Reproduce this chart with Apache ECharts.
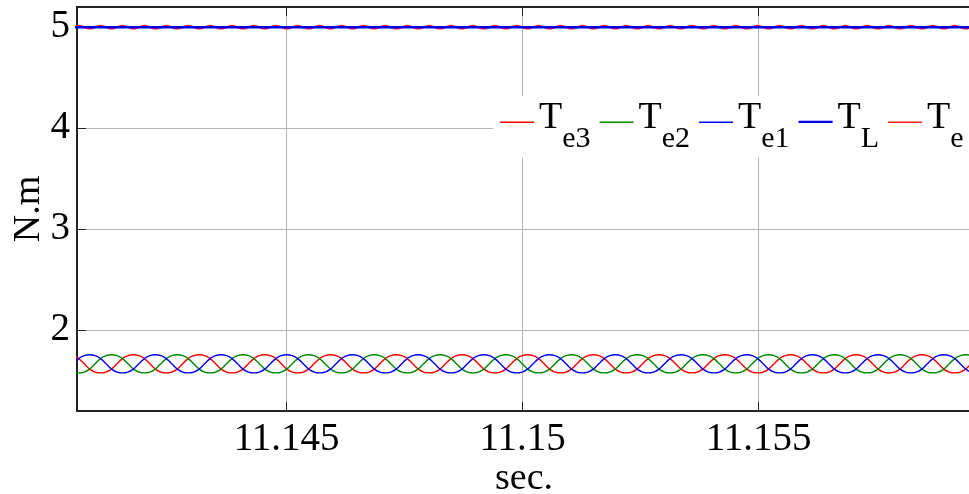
<!DOCTYPE html>
<html>
<head>
<meta charset="utf-8">
<script src="https://cdn.jsdelivr.net/npm/echarts@6/dist/echarts.min.js"></script>
<style>
html,body{margin:0;padding:0;background:#fff;}
#chart{width:969px;height:494px;}
</style>
</head>
<body>
<div id="chart"></div>
<script>
// time samples (s)
const time = [
11.14048,11.140596,11.140712,11.140828,11.140944,11.14106,11.141176,11.141292,11.141408,11.141524,11.14164,11.141756,
11.141872,11.141988,11.142104,11.14222,11.142336,11.142452,11.142568,11.142684,11.1428,11.142916,11.143032,11.143148,
11.143264,11.14338,11.143496,11.143612,11.143728,11.143844,11.14396,11.144076,11.144192,11.144308,11.144424,11.14454,
11.144656,11.144772,11.144888,11.145004,11.14512,11.145236,11.145352,11.145468,11.145584,11.1457,11.145816,11.145932,
11.146048,11.146164,11.14628,11.146396,11.146512,11.146628,11.146744,11.14686,11.146976,11.147092,11.147208,11.147324,
11.14744,11.147556,11.147672,11.147788,11.147904,11.14802,11.148136,11.148252,11.148368,11.148484,11.1486,11.148716,
11.148832,11.148948,11.149064,11.14918,11.149296,11.149412,11.149528,11.149644,11.14976,11.149876,11.149992,11.150108,
11.150224,11.15034,11.150456,11.150572,11.150688,11.150804,11.15092,11.151036,11.151152,11.151268,11.151384,11.1515,
11.151616,11.151732,11.151848,11.151964,11.15208,11.152196,11.152312,11.152428,11.152544,11.15266,11.152776,11.152892,
11.153008,11.153124,11.15324,11.153356,11.153472,11.153588,11.153704,11.15382,11.153936,11.154052,11.154168,11.154284,
11.1544,11.154516,11.154632,11.154748,11.154864,11.15498,11.155096,11.155212,11.155328,11.155444,11.15556,11.155676,
11.155792,11.155908,11.156024,11.15614,11.156256,11.156372,11.156488,11.156604,11.15672,11.156836,11.156952,11.157068,
11.157184,11.1573,11.157416,11.157532,11.157648,11.157764,11.15788,11.157996,11.158112,11.158228,11.158344,11.15846,
11.158576,11.158692,11.158808,11.158924,11.15904,11.159156,11.159272,11.159388,11.159504,11.15962,11.159736,11.159852
];

// phase torques (N.m)
const te1 = [
1.667,1.719,1.749,1.757,1.749,1.719,1.667,1.615,1.585,1.577,1.585,1.615,
1.667,1.719,1.749,1.757,1.749,1.719,1.667,1.615,1.585,1.577,1.585,1.615,
1.667,1.719,1.749,1.757,1.749,1.719,1.667,1.615,1.585,1.577,1.585,1.615,
1.667,1.719,1.749,1.757,1.749,1.719,1.667,1.615,1.585,1.577,1.585,1.615,
1.667,1.719,1.749,1.757,1.749,1.719,1.667,1.615,1.585,1.577,1.585,1.615,
1.667,1.719,1.749,1.757,1.749,1.719,1.667,1.615,1.585,1.577,1.585,1.615,
1.667,1.719,1.749,1.757,1.749,1.719,1.667,1.615,1.585,1.577,1.585,1.615,
1.667,1.719,1.749,1.757,1.749,1.719,1.667,1.615,1.585,1.577,1.585,1.615,
1.667,1.719,1.749,1.757,1.749,1.719,1.667,1.615,1.585,1.577,1.585,1.615,
1.667,1.719,1.749,1.757,1.749,1.719,1.667,1.615,1.585,1.577,1.585,1.615,
1.667,1.719,1.749,1.757,1.749,1.719,1.667,1.615,1.585,1.577,1.585,1.615,
1.667,1.719,1.749,1.757,1.749,1.719,1.667,1.615,1.585,1.577,1.585,1.615,
1.667,1.719,1.749,1.757,1.749,1.719,1.667,1.615,1.585,1.577,1.585,1.615,
1.667,1.719,1.749,1.757,1.749,1.719,1.667,1.615,1.585,1.577,1.585,1.615
];
const te2 = [
1.585,1.577,1.585,1.615,1.667,1.719,1.749,1.757,1.749,1.719,1.667,1.615,
1.585,1.577,1.585,1.615,1.667,1.719,1.749,1.757,1.749,1.719,1.667,1.615,
1.585,1.577,1.585,1.615,1.667,1.719,1.749,1.757,1.749,1.719,1.667,1.615,
1.585,1.577,1.585,1.615,1.667,1.719,1.749,1.757,1.749,1.719,1.667,1.615,
1.585,1.577,1.585,1.615,1.667,1.719,1.749,1.757,1.749,1.719,1.667,1.615,
1.585,1.577,1.585,1.615,1.667,1.719,1.749,1.757,1.749,1.719,1.667,1.615,
1.585,1.577,1.585,1.615,1.667,1.719,1.749,1.757,1.749,1.719,1.667,1.615,
1.585,1.577,1.585,1.615,1.667,1.719,1.749,1.757,1.749,1.719,1.667,1.615,
1.585,1.577,1.585,1.615,1.667,1.719,1.749,1.757,1.749,1.719,1.667,1.615,
1.585,1.577,1.585,1.615,1.667,1.719,1.749,1.757,1.749,1.719,1.667,1.615,
1.585,1.577,1.585,1.615,1.667,1.719,1.749,1.757,1.749,1.719,1.667,1.615,
1.585,1.577,1.585,1.615,1.667,1.719,1.749,1.757,1.749,1.719,1.667,1.615,
1.585,1.577,1.585,1.615,1.667,1.719,1.749,1.757,1.749,1.719,1.667,1.615,
1.585,1.577,1.585,1.615,1.667,1.719,1.749,1.757,1.749,1.719,1.667,1.615
];
const te3 = [
1.749,1.719,1.667,1.615,1.585,1.577,1.585,1.615,1.667,1.719,1.749,1.757,
1.749,1.719,1.667,1.615,1.585,1.577,1.585,1.615,1.667,1.719,1.749,1.757,
1.749,1.719,1.667,1.615,1.585,1.577,1.585,1.615,1.667,1.719,1.749,1.757,
1.749,1.719,1.667,1.615,1.585,1.577,1.585,1.615,1.667,1.719,1.749,1.757,
1.749,1.719,1.667,1.615,1.585,1.577,1.585,1.615,1.667,1.719,1.749,1.757,
1.749,1.719,1.667,1.615,1.585,1.577,1.585,1.615,1.667,1.719,1.749,1.757,
1.749,1.719,1.667,1.615,1.585,1.577,1.585,1.615,1.667,1.719,1.749,1.757,
1.749,1.719,1.667,1.615,1.585,1.577,1.585,1.615,1.667,1.719,1.749,1.757,
1.749,1.719,1.667,1.615,1.585,1.577,1.585,1.615,1.667,1.719,1.749,1.757,
1.749,1.719,1.667,1.615,1.585,1.577,1.585,1.615,1.667,1.719,1.749,1.757,
1.749,1.719,1.667,1.615,1.585,1.577,1.585,1.615,1.667,1.719,1.749,1.757,
1.749,1.719,1.667,1.615,1.585,1.577,1.585,1.615,1.667,1.719,1.749,1.757,
1.749,1.719,1.667,1.615,1.585,1.577,1.585,1.615,1.667,1.719,1.749,1.757,
1.749,1.719,1.667,1.615,1.585,1.577,1.585,1.615,1.667,1.719,1.749,1.757
];
// total electromagnetic torque (N.m)
const teTotal = [
5,5.014,5,4.986,5,5.014,5,4.986,5,5.014,5,4.986,
5,5.014,5,4.986,5,5.014,5,4.986,5,5.014,5,4.986,
5,5.014,5,4.986,5,5.014,5,4.986,5,5.014,5,4.986,
5,5.014,5,4.986,5,5.014,5,4.986,5,5.014,5,4.986,
5,5.014,5,4.986,5,5.014,5,4.986,5,5.014,5,4.986,
5,5.014,5,4.986,5,5.014,5,4.986,5,5.014,5,4.986,
5,5.014,5,4.986,5,5.014,5,4.986,5,5.014,5,4.986,
5,5.014,5,4.986,5,5.014,5,4.986,5,5.014,5,4.986,
5,5.014,5,4.986,5,5.014,5,4.986,5,5.014,5,4.986,
5,5.014,5,4.986,5,5.014,5,4.986,5,5.014,5,4.986,
5,5.014,5,4.986,5,5.014,5,4.986,5,5.014,5,4.986,
5,5.014,5,4.986,5,5.014,5,4.986,5,5.014,5,4.986,
5,5.014,5,4.986,5,5.014,5,4.986,5,5.014,5,4.986,
5,5.014,5,4.986,5,5.014,5,4.986,5,5.014,5,4.986
];
// load torque (N.m), constant
const tlTime = [11.14048, 11.159852];
const tlValues = [5, 5];

const xTicks = [11.145, 11.15, 11.155];
const yTicks = [2, 3, 4, 5];
const legendNames = ['Te3', 'Te2', 'Te1', 'TL', 'Te'];
const legendSubs = ['e3', 'e2', 'e1', 'L', 'e'];

const FONT = 'Liberation Serif';
const zip = (xs, ys) => xs.map((x, i) => [x, ys[i]]);
const pick = (list, v, tol) => { const k = list.find(t => Math.abs(t - v) < tol); return k === undefined ? '' : String(k); };

// legend line icons (34 x 10 box, bar drawn low in the box)
const ICON_THIN = 'path://M0,0H34V0H0Z M0,8.25H34V9.75H0Z';
const ICON_THICK = 'path://M0,0H34V0H0Z M0,7.75H34V10H0Z';

const chart = echarts.init(document.getElementById('chart'), null, { renderer: 'canvas' });

const baseLine = (name, xs, ys, color, width, smooth) => ({
  name, type: 'line', data: zip(xs, ys), symbol: 'none', showSymbol: false, smooth: smooth,
  lineStyle: { color, width }, itemStyle: { color }, emphasis: { disabled: true }
});

chart.setOption({
  animation: false,
  backgroundColor: '#fff',
  grid: { left: 77, right: -2, top: 7, bottom: 83, containLabel: false, outerBoundsMode: 'none' },
  xAxis: [{
    type: 'value', min: 11.14056, max: 11.1595, minInterval: 0.005, maxInterval: 0.005, splitNumber: 4,
    position: 'bottom',
    name: 'sec.', nameLocation: 'middle', nameGap: 49, nameMoveOverlap: false,
    nameTextStyle: { fontFamily: FONT, fontSize: 38, color: '#000' },
    axisLine: { show: true, onZero: false, lineStyle: { color: '#222', width: 2 } },
    axisTick: { show: true, inside: true, length: 9, lineStyle: { color: '#222', width: 1 } },
    axisLabel: { show: true, margin: 9, fontFamily: FONT, fontSize: 39, color: '#000',
      showMinLabel: true, showMaxLabel: true, hideOverlap: false,
      formatter: v => pick(xTicks, v, 1e-7) },
    splitLine: { show: true, lineStyle: { color: '#b4b4b4', width: 1 } }
  }, {
    type: 'value', min: 11.14056, max: 11.1595, minInterval: 0.005, maxInterval: 0.005, splitNumber: 4,
    position: 'top',
    axisLine: { show: true, onZero: false, lineStyle: { color: '#222', width: 2 } },
    axisTick: { show: true, inside: true, length: 9, lineStyle: { color: '#222', width: 1 } },
    axisLabel: { show: false },
    splitLine: { show: false }
  }],
  yAxis: [{
    type: 'value', min: 1.2, max: 5.2, minInterval: 1, maxInterval: 1, splitNumber: 4,
    name: 'N.m', nameLocation: 'middle', nameGap: 29, nameMoveOverlap: false,
    nameTextStyle: { fontFamily: FONT, fontSize: 38, color: '#000' },
    axisLine: { show: true, onZero: false, lineStyle: { color: '#222', width: 2 } },
    axisTick: { show: true, inside: true, length: 9, lineStyle: { color: '#222', width: 1 } },
    axisLabel: { show: true, margin: 7, fontFamily: FONT, fontSize: 39, color: '#000',
      showMinLabel: true, showMaxLabel: true,
      formatter: v => pick(yTicks, v, 1e-7) },
    splitLine: { show: true, lineStyle: { color: '#b4b4b4', width: 1 } }
  }],
  legend: {
    show: true, type: 'plain', orient: 'horizontal', left: 493, top: 96, width: 700,
    padding: [3, 20, 4, 7], backgroundColor: '#fff', borderWidth: 0,
    itemWidth: 34, itemHeight: 10, itemGap: 9, symbolKeepAspect: false,
    data: legendNames.map(n => ({ name: n, icon: n === 'TL' ? ICON_THICK : ICON_THIN })),
    selectedMode: false,
    formatter: name => '{t|T}{s|' + legendSubs[legendNames.indexOf(name)] + '}',
    textStyle: {
      fontFamily: FONT, color: '#000',
      rich: {
        t: { fontFamily: FONT, fontSize: 38, lineHeight: 38, verticalAlign: 'top', color: '#000' },
        s: { fontFamily: FONT, fontSize: 30, lineHeight: 30, verticalAlign: 'top', padding: [25, 0, 0, 0], color: '#000' }
      }
    }
  },
  series: [
    baseLine('Te3', time, te3, '#ff0000', 1.4, 0.5),
    baseLine('Te2', time, te2, '#008a00', 1.4, 0.5),
    baseLine('Te1', time, te1, '#0000ff', 1.4, 0.5),
    baseLine('Te', time, teTotal, '#ff2020', 2, 0.5),
    baseLine('TL', tlTime, tlValues, '#0000e6', 2.5, false)
  ]
});
</script>
</body>
</html>
